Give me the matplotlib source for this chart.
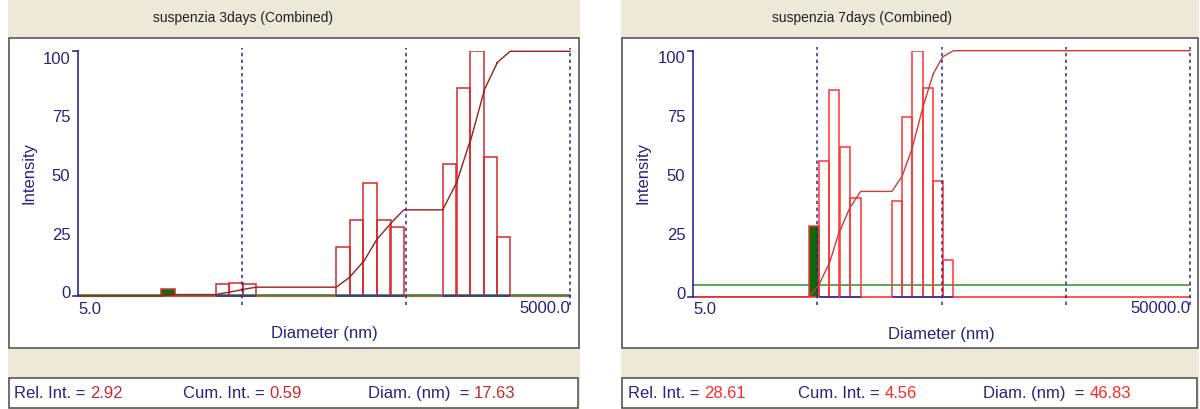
import numpy as np
import matplotlib.pyplot as plt
from matplotlib.patches import Rectangle

plt.rcParams['font.family'] = ['Liberation Sans', 'DejaVu Sans']

W, H = 1200, 410

# distribution data (bin centre diameter in nm, relative intensity)
titles = ['suspenzia 3days (Combined)', 'suspenzia 7days (Combined)']
diam_3d = [17.63, 38.0, 46.0, 55.4, 206.4, 248.9, 302.6, 366.2, 440.9,
           920.9, 1117.7, 1359.0, 1633.0, 1960.0]
int_3d = [2.92, 4.8, 5.3, 4.8, 20, 31, 46, 31, 28, 54, 85, 100, 57, 24]
diam_7d = [46.83, 56.4, 68.6, 83.6, 101.6, 219.3, 265.3, 320.4, 387.3, 466.1, 567.1]
int_7d = [28.61, 55, 84, 61, 40, 39, 73, 100, 85, 47, 15]
x_ranges = [(5.0, 5000.0), (5.0, 50000.0)]
x_end_labels = [('5.0', '5000.0'), ('5.0', '50000.0')]
y_ticks = [100, 75, 50, 25, 0]
status_3d = ['2.92', '0.59', '17.63']
status_7d = ['28.61', '4.56', '46.83']
status_names = ['Rel. Int. = ', 'Cum. Int. = ', 'Diam. (nm)  = ']

BEIGE = '#ECE9D8'
NAVY = '#25257F'
BIN_W = 0.0825  # bin width in decades


def fx(x):
    return x / W


def fy(y):
    return 1 - y / H


fig = plt.figure(figsize=(12, 4.1), dpi=100)
fig.patch.set_facecolor('white')


def rect(x0, y0, x1, y1, fc, ec='none', lw=0):
    fig.patches.append(Rectangle((fx(x0), fy(y1)), fx(x1 - x0), (y1 - y0) / H,
                                 transform=fig.transFigure, facecolor=fc,
                                 edgecolor=ec, linewidth=lw, zorder=-5))


panels = [
    # panel box, axes box (left, right, y100, y0), title x, status x positions
    dict(box=(8, 580), ax=(78, 570, 52.3, 297.0), tx=243, sx=(14, 183, 368),
         diam=diam_3d, inten=int_3d, status=status_3d, red='#D42A2A',
         cum='#9A1F1F', val='#C42A30', green='#2F8A2F'),
    dict(box=(621, 1199), ax=(693, 1190, 51.7, 297.7), tx=862, sx=(628, 798, 983),
         diam=diam_7d, inten=int_7d, status=status_7d, red='#FF3535',
         cum='#D23A3A', val='#FF2A2A', green='#3C9C3C'),
]

for i, p in enumerate(panels):
    b0, b1 = p['box']
    rect(b0, 0, b1, H, BEIGE)
    rect(b0 + 1, 39, b1 - 1, 349, 'white', '#4A4A4A', 1.1)
    rect(b0 + 1, 379, b1 - 2, 409, 'white', '#4A4A4A', 1.1)
    fig.text(fx(p['tx']), fy(18), titles[i], ha='center', va='center',
             fontsize=10, color='#202020')

    # status line
    for name, val, sx in zip(status_names, p['status'], p['sx']):
        t = fig.text(fx(sx), fy(394), name, ha='left', va='center',
                     fontsize=12, color=NAVY)
        fig.canvas.draw()
        bb = t.get_window_extent()
        fig.text(bb.x1 / W, fy(394), val, ha='left', va='center',
                 fontsize=12, color=p['val'])

    l, r, ytop, ybot = p['ax']
    ax = fig.add_axes([fx(l), fy(ybot), (r - l) / W, (ybot - ytop) / H])
    ax.set_zorder(2)
    ax.set_facecolor('none')
    for s in ax.spines.values():
        s.set_visible(False)
    xmin, xmax = x_ranges[i]
    ax.set_xscale('log')
    ax.set_xlim(xmin, xmax)
    ax.set_ylim(0, 100)
    ax.set_xticks([])
    ax.minorticks_off()

    d = np.array(p['diam'])
    v = np.array(p['inten'])
    left = d * 10 ** (-BIN_W / 2)
    right = d * 10 ** (BIN_W / 2)

    # baseline + cursor cumulative level
    cum = np.cumsum(v) / v.sum() * 100
    ax.plot([xmin, xmax], [0, 0], color=p['red'], lw=1.2, clip_on=False, zorder=2)
    ax.plot([xmin, xmax], [cum[0], cum[0]], color=p['green'], lw=1.2,
            clip_on=False, zorder=2)

    # bars (first one is the selected bin)
    ax.bar(left[1:], v[1:], width=right[1:] - left[1:], align='edge',
           facecolor='none', edgecolor=p['red'], lw=1.1, zorder=3)
    ax.bar(left[0], v[0], width=right[0] - left[0], align='edge',
           facecolor='#0B6B0B', edgecolor=p['red'], lw=1.1, zorder=4)
    ax.hlines(np.zeros(len(d) - 1), left[1:], right[1:], color='#2A3A9A',
              lw=1.2, zorder=4, clip_on=False)

    # cumulative curve
    cx = [xmin]
    cy = [0]
    prev = 0
    for lo, hi, c in zip(left, right, cum):
        cx += [lo, hi]
        cy += [prev, c]
        prev = c
    cx.append(xmax)
    cy.append(100)
    ax.plot(cx, cy, color=p['cum'], lw=1.0, zorder=5, clip_on=False)

    # decade grid lines
    dec = xmin * 10
    while dec <= xmax * 1.001:
        ax.vlines(dec, -3.5, 101.5, colors='#2B2B90', lw=1.1,
                  linestyles=(0, (2.2, 2.2)), zorder=6, clip_on=False)
        dec *= 10

    # y axis with small end hooks
    ax.plot([xmin, xmin], [0, 100], color='#2B2B8C', lw=1.2, clip_on=False, zorder=7)
    hook = 5.0 / (r - l)
    for yv in (0, 100):
        ax.plot([-hook, 0], [yv, yv], transform=ax.get_yaxis_transform(),
                color='#2B2B8C', lw=1.2, clip_on=False, zorder=7)
    ax.set_yticks([2 + t * 0.957 for t in y_ticks])
    ax.set_yticklabels([str(t) for t in y_ticks])
    ax.tick_params(axis='y', length=0, pad=5.5, labelsize=12, labelcolor=NAVY)

    ax.text(xmin, -5, x_end_labels[i][0], ha='left', va='center',
            fontsize=12, color=NAVY)
    ax.text(xmax, -4.5, x_end_labels[i][1], ha='right', va='center',
            fontsize=12, color=NAVY)
    ax.text(0.5, -0.151, 'Diameter (nm)', transform=ax.transAxes,
            ha='center', va='center', fontsize=12, color=NAVY)
    ax.text(-0.1, 0.507, 'Intensity', transform=ax.transAxes, rotation=90,
            ha='center', va='center', fontsize=12, color=NAVY)

fig.savefig('out.png', dpi=100)
